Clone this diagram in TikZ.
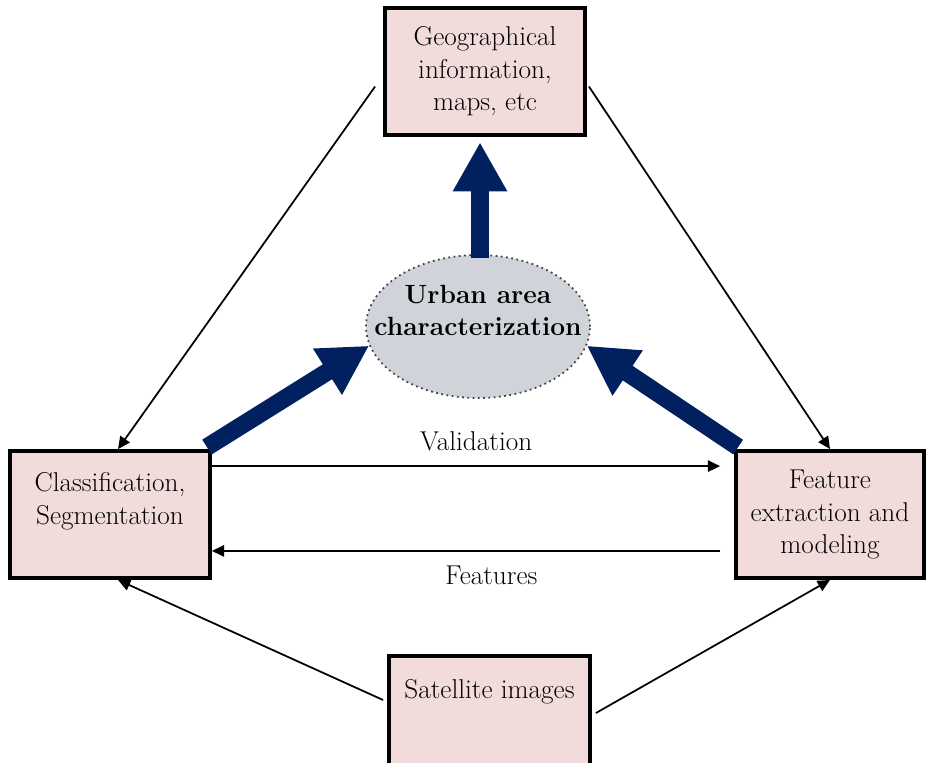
\documentclass[tikz,border=0pt]{standalone}
\usepackage{tikz}
\usetikzlibrary{arrows.meta,shapes.geometric,positioning}
\definecolor{boxfill}{HTML}{F2DCDB}
\definecolor{ovalfill}{HTML}{D0D3D9}
\definecolor{navy}{HTML}{002060}
\tikzset{
  box/.style={rectangle,draw=black,line width=2.2pt,fill=boxfill,
    align=center,minimum width=4cm,minimum height=2.54cm,inner sep=2pt},
  oval/.style={ellipse,draw=black!75,dotted,line width=1pt,fill=ovalfill,
    align=center,minimum width=4.48cm,minimum height=2.86cm,
    inner xsep=-16pt,inner ysep=0pt,
    font=\fontsize{15}{18.5}\selectfont\bfseries},
  ar/.style={-{Triangle[length=7pt,width=6.5pt]},line width=1pt},
  bigar/.style={-{Triangle[length=0pt 2.8,width=0pt 2.9]},line width=10pt,draw=navy},
}

\begin{document}
\begin{tikzpicture}[x=0.02cm,y=-0.02cm,font=\fontsize{15.5}{18.5}\selectfont]
  \path[use as bounding box,clip] (0,0) rectangle (926,762);
  % boxes
  \node[box] (geo) at (485,71.5) {Geographical\\information,\\maps, etc};
  \node[box] (cls) at (110,514.5) {Classification,\\Segmentation\\\mbox{}};
  \node[box,minimum width=3.76cm] (feat) at (830,514.5) {Feature\\extraction and\\modeling};
  \node[box,minimum width=4.02cm,minimum height=2.6cm] (sat) at (489.5,721) {Satellite images\\\mbox{}\\\mbox{}};
  \node[oval] (urban) at (478,326.5) {Urban area\\characterization\\\mbox{}};
  % thin connectors
  \draw[ar] ([shift={(-8,15)}]geo.west) -- ([shift={(8,0)}]cls.north);
  \draw[ar] ([shift={(2,15)}]geo.east) -- (feat.north);
  \draw[ar] ([shift={(0,17)}]cls.north east) -- ([shift={(-14,17)}]feat.north west)
    node[pos=0.52,above=5pt] {Validation};
  \draw[ar] ([shift={(-14,-29)}]feat.south west) -- ([shift={(0,-29)}]cls.south east)
    node[pos=0.45,below=5pt] {Features};
  \draw[ar] ([shift={(-4,-21)}]sat.west) -- ([shift={(8,0)}]cls.south);
  \draw[ar] ([shift={(4,-8)}]sat.east) -- (feat.south);
  % thick arrows
  \draw[bigar,shorten >=3pt] ([shift={(2,4)}]urban.north) -- ([shift={(2,0)}]urban.north |- geo.south);
  \draw[bigar] ([shift={(-5,-2)}]cls.north east) -- (urban.190);
  \draw[bigar] ([shift={(4,-2)}]feat.north west) -- (urban.350);
\end{tikzpicture}
\end{document}
